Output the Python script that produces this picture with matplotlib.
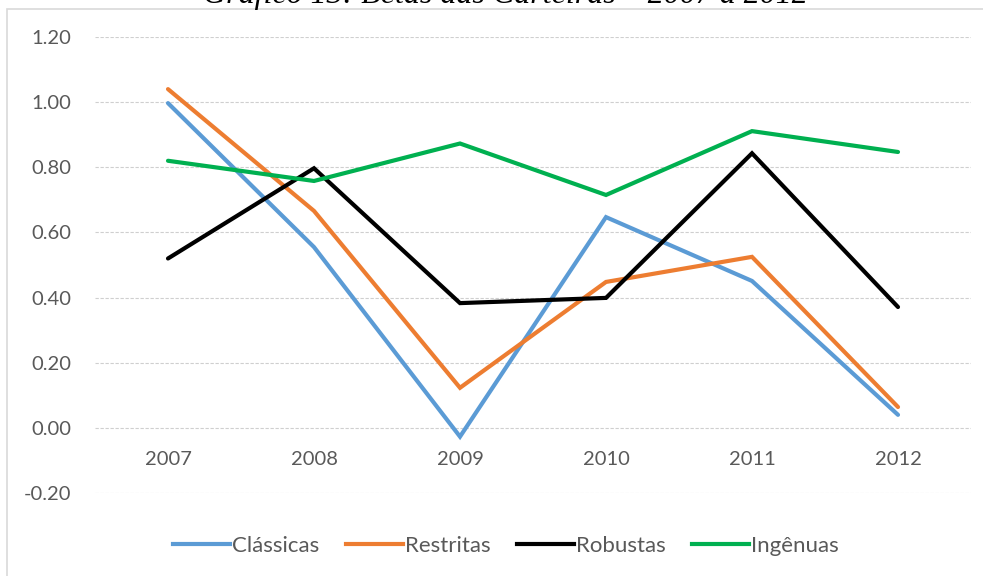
import numpy as np
import matplotlib.pyplot as plt
from matplotlib.patches import Rectangle
from matplotlib.lines import Line2D

# dados
anos = ['2007', '2008', '2009', '2010', '2011', '2012']
classicas = [0.997, 0.555, -0.027, 0.647, 0.451, 0.040]
restritas = [1.040, 0.666, 0.123, 0.448, 0.525, 0.064]
robustas = [0.520, 0.797, 0.383, 0.399, 0.843, 0.371]
ingenuas = [0.820, 0.758, 0.873, 0.715, 0.911, 0.847]
series = ['Clássicas', 'Restritas', 'Robustas', 'Ingênuas']
cores = ['#5B9BD5', '#ED7D31', '#000000', '#00B050']
y_ticks = [-0.2, 0.0, 0.2, 0.4, 0.6, 0.8, 1.0, 1.2]

W, H = 983, 576
fig = plt.figure(figsize=(W/100, H/100), dpi=100)
fonte = ['Lato', 'DejaVu Sans']
cinza = '#595959'

# moldura do grafico
fig.patches.append(Rectangle((7/W, -0.1), 1.2, 1 - 9/H + 0.1, transform=fig.transFigure,
                             fill=False, edgecolor='#d9d9d9', lw=1.2))

# titulo (cortado no topo, como no original)
fig.text(505/W, 1 - 3/H, 'Gráfico 13: Betas das Carteiras – 2007 a 2012',
         ha='center', va='baseline', fontsize=23, style='italic',
         family='Liberation Serif', color='black')

ax = fig.add_axes([95/W, 1 - 493/H, 876/W, 456/H])
x = np.arange(len(anos))
for nome, vals, c in zip(series, [classicas, restritas, robustas, ingenuas], cores):
    ax.plot(x, vals, color=c, lw=3, label=nome, solid_capstyle='round', solid_joinstyle='miter')

ax.set_xlim(-0.5, len(anos) - 0.5)
ax.set_ylim(-0.2, 1.2)
ax.set_yticks(y_ticks)
ax.set_yticklabels(['%.2f' % v for v in y_ticks])
for v in y_ticks:
    ax.axhline(v, color='#cfcfcf', lw=0.8, ls=(0, (3, 1.5)), zorder=0)

for s in ax.spines.values():
    s.set_visible(False)
ax.spines['bottom'].set_position(('data', 0))
ax.set_xticks(x)
ax.set_xticklabels(anos)
ax.tick_params(axis='x', length=0, pad=17, labelsize=14.5, labelcolor=cinza)
ax.tick_params(axis='y', length=0, pad=17, labelsize=14.5, labelcolor=cinza)
for lab in ax.get_xticklabels() + ax.get_yticklabels():
    lab.set_family(fonte)

handles = [Line2D([0], [0], color=c, lw=3) for c in cores]
leg = fig.legend(handles, series, loc='center', bbox_to_anchor=(506/W, 1 - 546/H),
                 ncol=4, frameon=False, handlelength=2.55, handletextpad=0.1,
                 columnspacing=1.2, prop={'family': fonte, 'size': 16})
for t in leg.get_texts():
    t.set_color(cinza)

fig.savefig('out.png', dpi=100)
